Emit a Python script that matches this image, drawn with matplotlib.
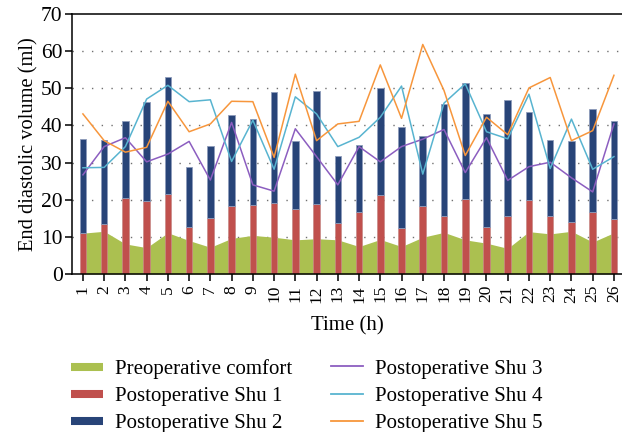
import matplotlib
matplotlib.use("Agg")
import matplotlib.pyplot as plt
from matplotlib.lines import Line2D

plt.rcParams['font.family'] = ['Liberation Serif', 'DejaVu Serif']

hours = list(range(1, 27))
preop = [11.0, 11.5, 8.1, 7.1, 11.1, 9.0, 7.2, 9.6, 10.4, 9.9, 9.2, 9.5, 9.2,
         7.4, 9.3, 7.4, 9.9, 11.2, 9.2, 8.3, 6.9, 11.4, 10.8, 11.5, 8.6, 11.1]
shu1 = [11.0, 13.5, 20.5, 19.7, 21.5, 12.6, 15.1, 18.2, 18.6, 19.0, 17.5, 18.8, 13.7,
        16.6, 21.3, 12.3, 18.2, 15.6, 20.1, 12.7, 15.5, 19.9, 15.7, 14.0, 16.8, 14.7]
shu2 = [25.3, 22.5, 20.6, 26.6, 31.5, 16.1, 19.4, 24.6, 23.0, 30.1, 18.3, 30.5, 18.2,
        18.0, 28.9, 27.2, 19.0, 30.3, 31.4, 30.5, 31.3, 23.6, 20.3, 21.8, 27.7, 26.4]
shu3 = [26.7, 34.3, 36.7, 30.2, 32.3, 35.7, 25.3, 40.8, 24.0, 22.3, 39.1, 31.6, 24.0,
        34.3, 30.2, 34.3, 36.3, 38.9, 27.3, 36.7, 25.2, 28.9, 30.1, 25.9, 22.1, 40.4]
shu4 = [28.6, 28.7, 34.3, 47.1, 50.8, 46.4, 46.9, 30.3, 41.4, 28.2, 47.7, 43.1, 34.3,
        36.8, 42.2, 50.6, 26.9, 46.0, 51.2, 38.3, 36.4, 48.4, 28.4, 41.7, 28.2, 31.6]
shu5 = [43.1, 35.9, 32.8, 34.1, 46.5, 38.3, 40.4, 46.5, 46.4, 31.4, 53.8, 35.9, 40.4,
        41.1, 56.3, 41.9, 61.8, 49.4, 31.9, 42.2, 37.5, 50.1, 52.9, 35.9, 38.6, 53.5]

labels = ["Preoperative comfort", "Postoperative Shu 1", "Postoperative Shu 2",
          "Postoperative Shu 3", "Postoperative Shu 4", "Postoperative Shu 5"]
c_green = '#abc050'
c_red = '#c0504d'
c_blue = '#284478'
c_purple = '#8c5ec0'
c_cyan = '#58b4d0'
c_orange = '#f7963c'

fig = plt.figure(figsize=(6.22, 4.32), dpi=100)
ax = fig.add_axes([72.3 / 622, 1 - 274 / 432, 1 - 72.3 / 622, (274 - 14) / 432])

ax.fill_between(hours, 0, preop, color=c_green, lw=0, zorder=1)
ax.bar(hours, shu1, width=0.31, color=c_red, edgecolor='#c88a88', lw=0.5, zorder=2)
ax.bar(hours, shu2, bottom=shu1, width=0.31, color=c_blue, edgecolor='#8e9cba', lw=0.6, zorder=2)
ax.plot(hours, shu3, color=c_purple, lw=1.1, zorder=3)
ax.plot(hours, shu4, color=c_cyan, lw=1.1, zorder=3)
ax.plot(hours, shu5, color=c_orange, lw=1.1, zorder=3)

ax.set_xlim(0.5, 26.38)
ax.set_ylim(0, 70)
ax.set_yticks(range(0, 71, 10))
ax.set_xticks(hours)
ax.set_xticklabels([str(h) for h in hours], rotation=90, fontsize=12.5)
ax.tick_params(axis='y', labelsize=15.5, length=5, width=1.1, direction='out', pad=2)
ax.tick_params(axis='x', length=5, width=1.1, direction='out', pad=3)
for y in range(10, 61, 10):
    ax.axhline(y, color='#707070', lw=1.0, ls=(0, (1, 6)), zorder=0.5)
ax.spines['right'].set_visible(False)
for s in ['left', 'bottom', 'top']:
    ax.spines[s].set_linewidth(1.1)

ax.set_ylabel("End diastolic volume (ml)", fontsize=14.8, labelpad=2)
ax.set_xlabel("Time (h)", fontsize=15, labelpad=10)

h1 = [Line2D([], [], color=c_green, lw=5.8, solid_capstyle='butt'),
      Line2D([], [], color=c_red, lw=5.8, solid_capstyle='butt'),
      Line2D([], [], color=c_blue, lw=5.8, solid_capstyle='butt')]
h2 = [Line2D([], [], color=c_purple, lw=1.3),
      Line2D([], [], color=c_cyan, lw=1.3),
      Line2D([], [], color=c_orange, lw=1.3)]
kw = dict(frameon=False, fontsize=15, handlelength=1.55, handletextpad=0.55,
          labelspacing=0.37, borderpad=0, borderaxespad=0, loc='upper left')
leg1 = fig.legend(h1, labels[:3], bbox_to_anchor=(71 / 622, 1 - 359 / 432), **kw)
leg2 = fig.legend(h2, labels[3:], bbox_to_anchor=(331 / 622, 1 - 359 / 432), **kw)

fig.savefig("out.png", dpi=100)
